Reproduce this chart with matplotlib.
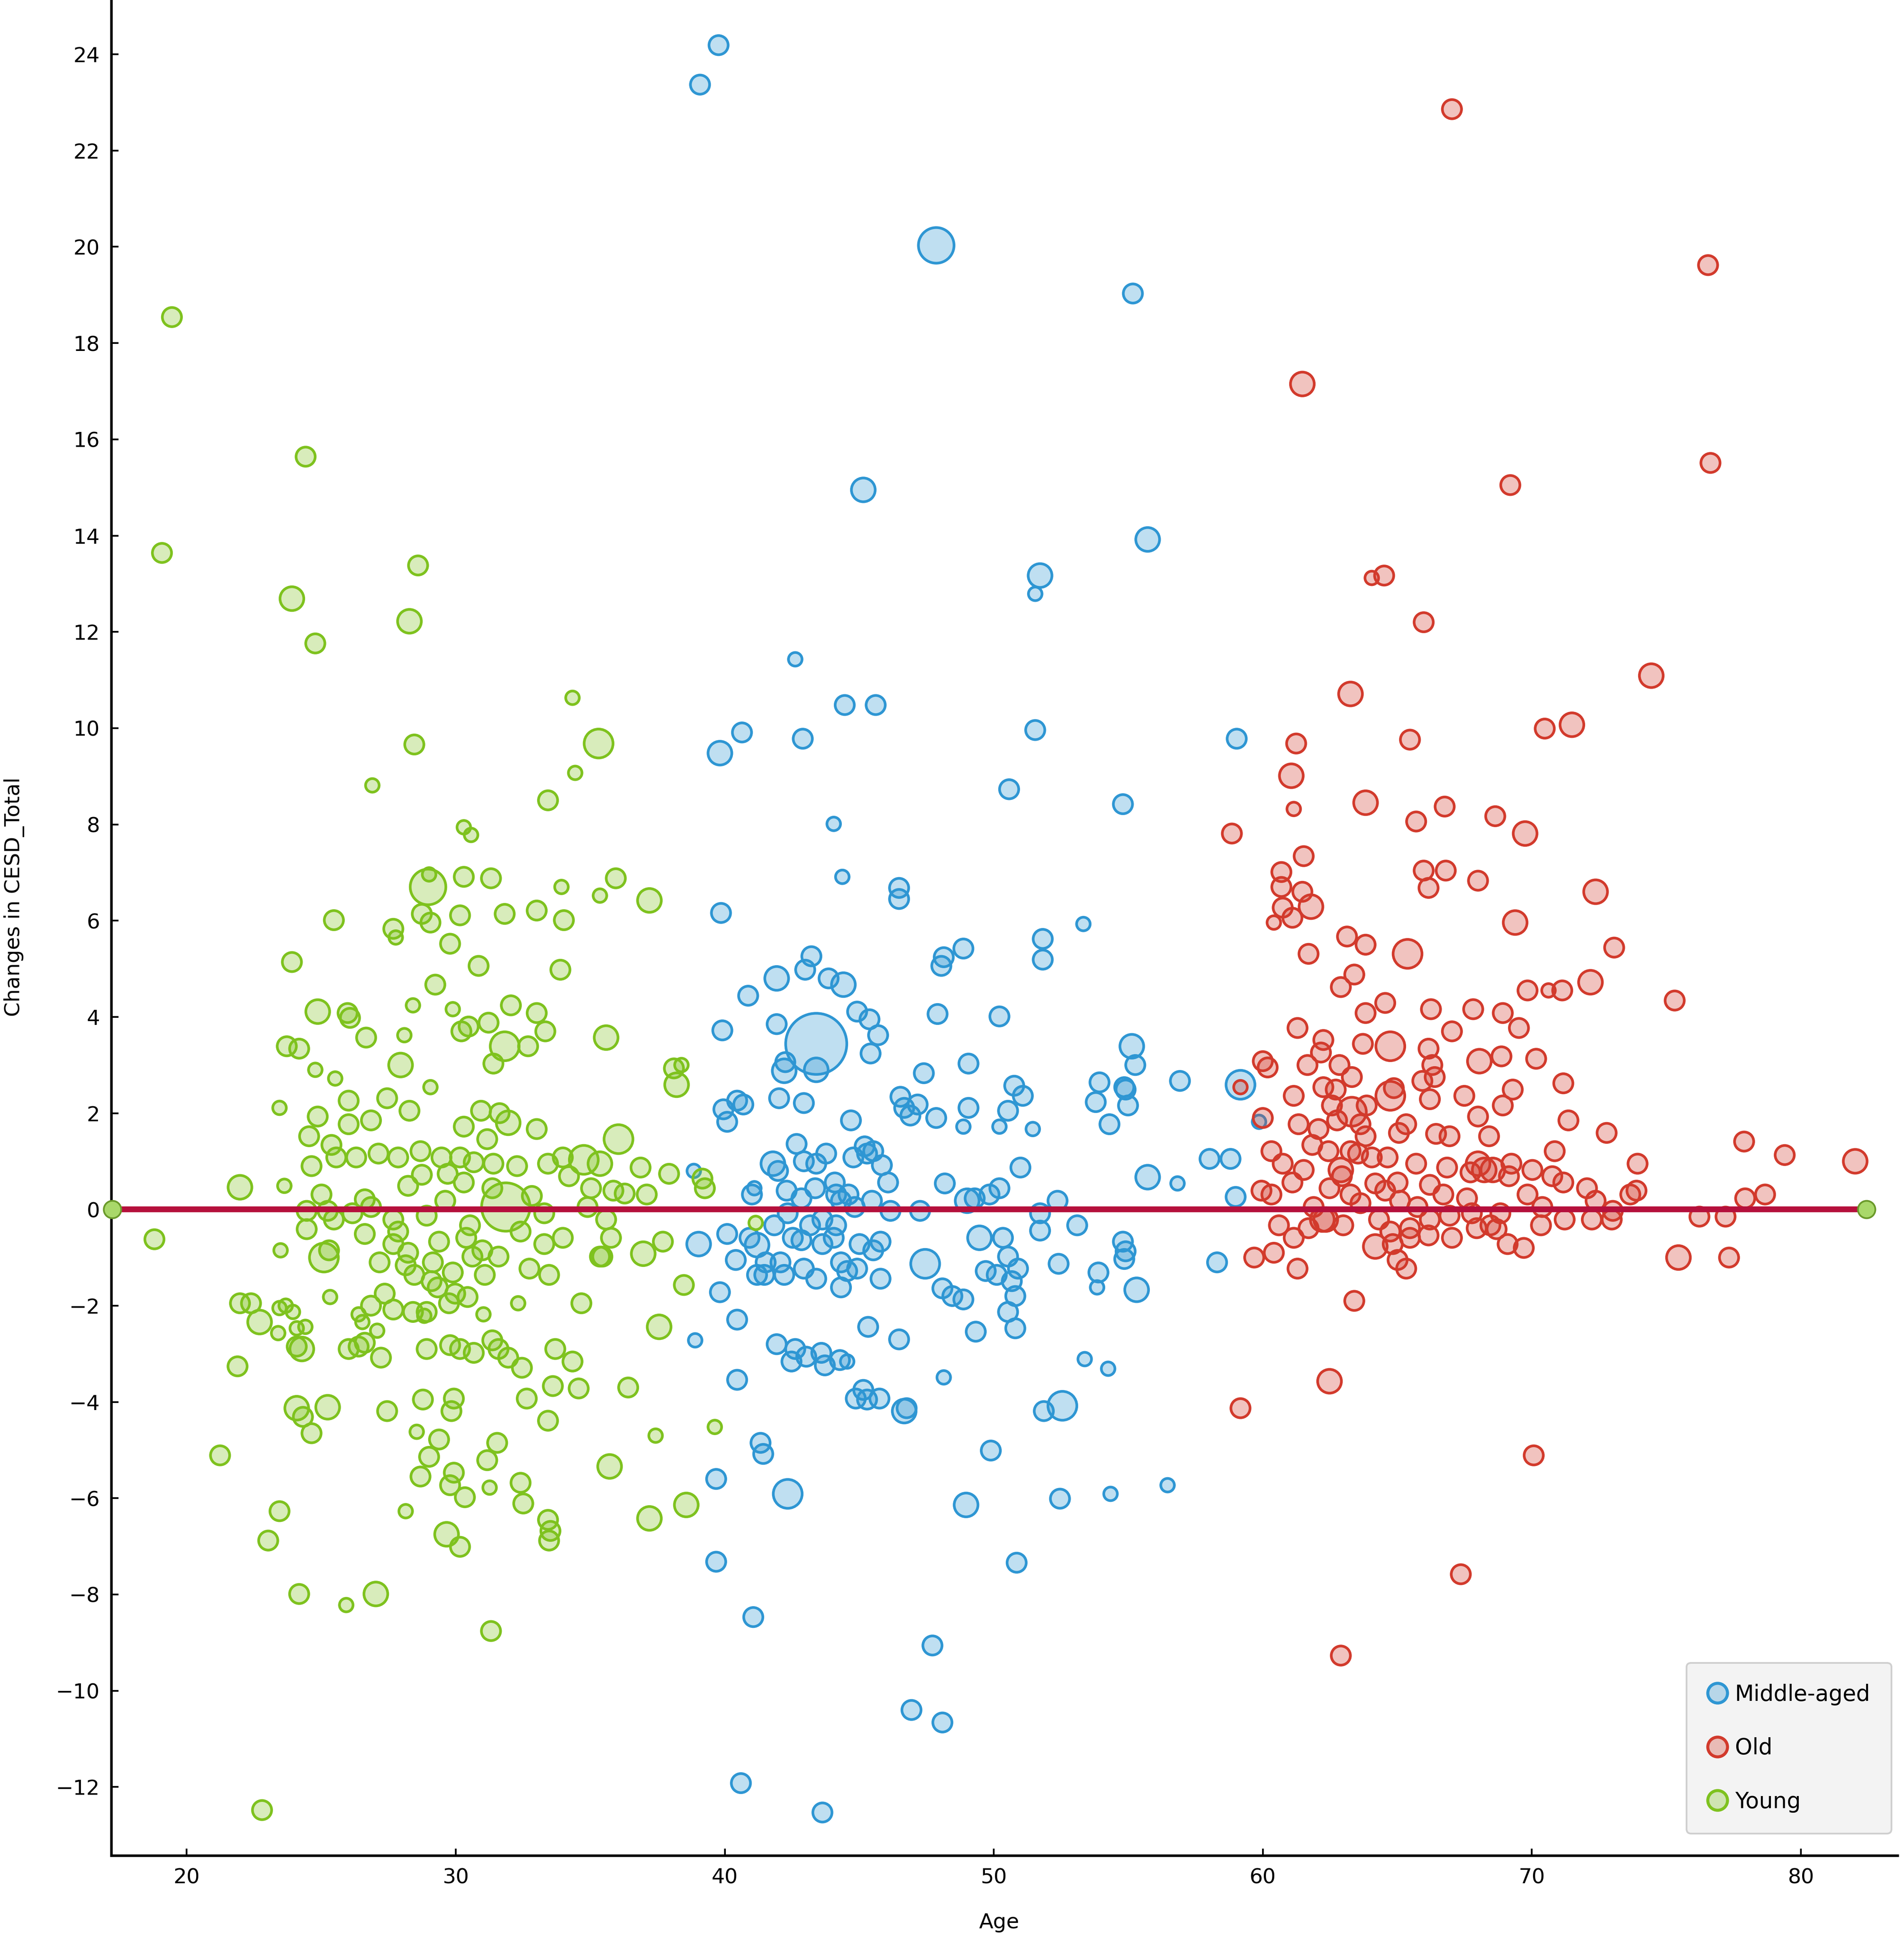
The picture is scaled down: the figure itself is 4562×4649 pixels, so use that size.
import matplotlib
matplotlib.use("Agg")
import matplotlib.pyplot as plt
from matplotlib.lines import Line2D
from matplotlib.colors import to_rgba

# ---------------- data: (age, change in CESD_Total, bubble weight) ----------------
young = [
    (19.45, 18.54, 2), (24.42, 15.64, 2), (19.08, 13.64, 2), (23.91, 12.69, 3), (24.78, 11.76, 2),
    (28.60, 13.38, 2), (28.28, 12.22, 3), (34.34, 10.63, 1), (35.31, 9.68, 4), (28.46, 9.66, 2),
    (26.90, 8.81, 1), (34.44, 9.07, 1), (33.43, 8.50, 2), (30.30, 7.94, 1), (30.57, 7.78, 1),
    (28.97, 6.70, 5), (29.01, 6.96, 1), (30.30, 6.91, 2), (31.31, 6.88, 2), (27.68, 5.83, 2),
    (27.77, 5.65, 1), (25.47, 6.01, 2), (23.91, 5.14, 2), (37.20, 6.42, 3), (35.95, 6.88, 2),
    (35.36, 6.52, 1), (33.93, 6.70, 1), (33.01, 6.21, 2), (34.02, 6.01, 2), (29.06, 5.96, 2),
    (28.74, 6.14, 2), (30.16, 6.11, 2), (31.82, 6.14, 2), (29.79, 5.52, 2), (30.85, 5.06, 2),
    (29.24, 4.67, 2), (33.89, 4.98, 2), (24.87, 4.11, 3), (25.98, 4.08, 2), (26.07, 3.98, 2),
    (28.41, 4.24, 1), (29.89, 4.16, 1), (32.05, 4.24, 2), (33.01, 4.08, 2), (30.48, 3.80, 2),
    (30.21, 3.70, 2), (31.22, 3.88, 2), (33.33, 3.70, 2), (28.09, 3.62, 1), (35.59, 3.57, 3),
    (23.72, 3.39, 2), (24.18, 3.34, 2), (26.67, 3.57, 2), (31.82, 3.39, 4), (32.69, 3.39, 2),
    (31.40, 3.03, 2), (24.78, 2.90, 1), (27.95, 3.00, 3), (29.06, 2.54, 1), (25.52, 2.72, 1),
    (38.11, 2.93, 2), (38.39, 3.00, 1), (38.21, 2.59, 3), (26.02, 2.26, 2), (27.45, 2.31, 2),
    (23.45, 2.11, 1), (24.87, 1.93, 2), (28.28, 2.05, 2), (30.94, 2.05, 2), (31.63, 2.00, 2),
    (31.95, 1.80, 3), (26.85, 1.85, 2), (33.01, 1.67, 2), (30.30, 1.72, 2), (31.17, 1.46, 2),
    (26.02, 1.77, 2), (24.55, 1.52, 2), (25.38, 1.34, 2), (36.05, 1.46, 4), (25.56, 1.08, 2),
    (26.30, 1.08, 2), (27.13, 1.16, 2), (27.86, 1.08, 2), (28.69, 1.21, 2), (29.47, 1.08, 2),
    (30.16, 1.08, 2), (30.67, 0.98, 2), (31.40, 0.95, 2), (32.28, 0.90, 2), (33.43, 0.95, 2),
    (33.98, 1.08, 2), (34.76, 1.03, 4), (35.36, 0.95, 3), (21.98, 0.46, 3), (24.64, 0.90, 2),
    (36.87, 0.87, 2), (37.93, 0.74, 2), (39.17, 0.64, 2), (39.26, 0.44, 2), (23.63, 0.49, 1),
    (25.01, 0.31, 2), (26.62, 0.21, 2), (28.23, 0.49, 2), (28.74, 0.72, 2), (29.70, 0.74, 2),
    (30.30, 0.56, 2), (31.86, 0.05, 6), (31.36, 0.44, 2), (32.83, 0.28, 2), (34.21, 0.69, 2),
    (35.03, 0.44, 2), (35.86, 0.39, 2), (36.28, 0.33, 2), (37.10, 0.31, 2), (24.46, -0.03, 2),
    (25.24, -0.03, 2), (26.16, -0.08, 2), (26.85, 0.05, 2), (27.68, -0.21, 2), (28.92, -0.13, 2),
    (29.61, 0.18, 2), (30.53, -0.33, 2), (33.29, -0.08, 2), (34.90, 0.05, 2), (35.59, -0.21, 2),
    (18.80, -0.62, 2), (23.49, -0.85, 1), (24.46, -0.41, 2), (25.47, -0.21, 2), (26.62, -0.51, 2),
    (27.86, -0.46, 2), (27.68, -0.72, 2), (28.23, -0.90, 2), (29.15, -1.10, 2), (29.38, -0.67, 2),
    (30.39, -0.59, 2), (30.99, -0.85, 2), (31.59, -0.98, 2), (32.41, -0.46, 2), (33.29, -0.72, 2),
    (33.98, -0.59, 2), (35.45, -0.98, 2), (35.77, -0.59, 2), (36.97, -0.92, 3), (37.70, -0.67, 2),
    (25.10, -1.00, 4), (25.29, -0.85, 2), (27.17, -1.10, 2), (28.14, -1.16, 2), (28.46, -1.36, 2),
    (29.10, -1.49, 2), (29.89, -1.31, 2), (30.62, -0.98, 2), (31.08, -1.36, 2), (32.74, -1.23, 2),
    (33.47, -1.36, 2), (35.36, -0.98, 2), (38.48, -1.57, 2), (29.33, -1.62, 2), (29.98, -1.75, 2),
    (27.36, -1.75, 2), (25.33, -1.82, 1), (26.85, -2.00, 2), (27.68, -2.08, 2), (28.41, -2.13, 2),
    (28.92, -2.13, 2), (29.75, -1.95, 2), (30.44, -1.82, 2), (21.98, -1.95, 2), (22.39, -1.95, 2),
    (32.32, -1.95, 1), (34.67, -1.95, 2), (23.45, -2.05, 1), (23.68, -2.00, 1), (24.09, -2.47, 1),
    (23.95, -2.13, 1), (22.71, -2.34, 3), (23.40, -2.57, 1), (24.41, -2.44, 1), (26.39, -2.18, 1),
    (26.53, -2.34, 1), (27.08, -2.52, 1), (28.83, -2.21, 1), (37.56, -2.44, 3), (31.03, -2.18, 1),
    (24.28, -2.90, 3), (24.09, -2.85, 2), (26.02, -2.90, 2), (26.39, -2.85, 2), (26.62, -2.77, 2),
    (27.22, -3.08, 2), (28.92, -2.90, 2), (29.79, -2.82, 2), (30.16, -2.90, 2), (30.67, -2.98, 2),
    (31.36, -2.72, 2), (31.59, -2.90, 2), (31.95, -3.08, 2), (32.46, -3.29, 2), (33.70, -2.90, 2),
    (34.34, -3.16, 2), (21.89, -3.26, 2), (33.61, -3.67, 2), (34.57, -3.72, 2), (36.41, -3.70, 2),
    (32.64, -3.93, 2), (33.43, -4.39, 2), (28.78, -3.95, 2), (29.93, -3.93, 2), (29.84, -4.19, 2),
    (27.45, -4.19, 2), (24.09, -4.13, 3), (24.32, -4.31, 2), (25.24, -4.11, 3), (24.64, -4.65, 2),
    (21.24, -5.11, 2), (28.55, -4.62, 1), (29.38, -4.78, 2), (31.54, -4.85, 2), (31.17, -5.21, 2),
    (37.43, -4.70, 1), (29.01, -5.14, 2), (29.93, -5.47, 2), (35.72, -5.34, 3), (28.69, -5.55, 2),
    (29.79, -5.73, 2), (30.34, -5.98, 2), (31.26, -5.78, 1), (32.41, -5.68, 2), (32.51, -6.11, 2),
    (33.43, -6.45, 2), (33.52, -6.68, 2), (33.47, -6.88, 2), (23.45, -6.27, 2), (23.03, -6.88, 2),
    (28.14, -6.27, 1), (29.66, -6.75, 3), (30.16, -7.01, 2), (38.57, -6.14, 3), (37.20, -6.42, 3),
    (24.18, -7.99, 2), (25.93, -8.22, 1), (27.03, -7.99, 3), (31.31, -8.76, 2), (22.80, -12.48, 2),
    (41.15, -0.28, 1), (39.63, -4.52, 1),
]

middle_aged = [
    (39.77, 24.19, 2), (39.08, 23.37, 2), (47.86, 20.03, 5), (55.17, 19.03, 2), (45.15, 14.95, 3),
    (55.72, 13.92, 3), (51.72, 13.17, 3), (51.54, 12.79, 1), (42.62, 11.43, 1), (44.46, 10.48, 2),
    (45.61, 10.48, 2), (40.64, 9.91, 2), (39.82, 9.48, 3), (42.90, 9.78, 2), (51.54, 9.96, 2),
    (59.03, 9.78, 2), (50.57, 8.73, 2), (54.80, 8.42, 2), (44.05, 8.01, 1), (44.37, 6.91, 1),
    (46.48, 6.68, 2), (46.48, 6.45, 2), (39.86, 6.16, 2), (51.82, 5.62, 2), (51.82, 5.19, 2),
    (53.33, 5.93, 1), (48.87, 5.42, 2), (48.05, 5.06, 2), (48.14, 5.24, 2), (43.22, 5.26, 2),
    (42.99, 4.98, 2), (41.93, 4.80, 3), (43.86, 4.80, 2), (44.41, 4.67, 3), (40.87, 4.44, 2),
    (44.92, 4.11, 2), (47.91, 4.06, 2), (50.21, 4.01, 2), (45.38, 3.95, 2), (45.70, 3.62, 2),
    (39.91, 3.72, 2), (41.93, 3.85, 2), (43.40, 3.44, 7), (45.42, 3.24, 2), (55.13, 3.39, 3),
    (42.21, 2.88, 3), (43.40, 2.90, 3), (42.25, 3.06, 2), (55.26, 3.00, 2), (49.06, 3.03, 2),
    (47.40, 2.83, 2), (50.76, 2.57, 2), (51.08, 2.36, 2), (56.92, 2.67, 2), (59.17, 2.59, 4),
    (53.93, 2.64, 2), (54.85, 2.54, 2), (42.02, 2.31, 2), (42.94, 2.21, 2), (40.46, 2.26, 2),
    (39.95, 2.08, 2), (40.69, 2.18, 2), (46.53, 2.34, 2), (46.67, 2.11, 2), (46.90, 1.95, 2),
    (47.17, 2.18, 2), (47.86, 1.90, 2), (49.06, 2.11, 2), (50.53, 2.05, 2), (53.79, 2.23, 2),
    (54.99, 2.16, 2), (54.90, 2.49, 2), (59.86, 1.82, 1), (54.30, 1.77, 2), (50.21, 1.72, 1),
    (48.87, 1.72, 1), (51.45, 1.67, 1), (44.69, 1.85, 2), (40.09, 1.82, 2), (42.67, 1.36, 2),
    (45.20, 1.31, 2), (45.29, 1.16, 2), (45.52, 1.21, 2), (43.77, 1.16, 2), (44.78, 1.08, 2),
    (42.94, 1.00, 2), (43.40, 0.95, 2), (41.79, 0.95, 3), (41.98, 0.80, 2), (38.85, 0.80, 1),
    (41.10, 0.44, 1), (45.84, 0.92, 2), (48.18, 0.54, 2), (50.21, 0.44, 2), (50.99, 0.87, 2),
    (55.72, 0.67, 3), (56.83, 0.54, 1), (58.02, 1.05, 2), (58.80, 1.05, 2), (44.09, 0.56, 2),
    (44.60, 0.31, 2), (44.32, 0.18, 2), (44.14, 0.31, 2), (43.36, 0.44, 2), (42.85, 0.23, 2),
    (42.30, 0.39, 2), (41.01, 0.31, 2), (44.83, 0.05, 2), (45.47, 0.18, 2), (46.16, -0.03, 2),
    (47.26, -0.03, 2), (49.01, 0.18, 3), (49.29, 0.23, 2), (49.84, 0.31, 2), (51.72, -0.08, 2),
    (52.37, 0.18, 2), (46.07, 0.56, 2), (58.99, 0.26, 2), (42.34, -0.08, 2), (43.17, -0.33, 2),
    (43.63, -0.21, 2), (44.14, -0.33, 2), (39.03, -0.72, 3), (40.09, -0.51, 2), (41.20, -0.74, 3),
    (40.92, -0.59, 2), (41.52, -1.10, 2), (42.53, -0.59, 2), (41.84, -0.33, 2), (42.85, -0.64, 2),
    (43.63, -0.72, 2), (44.05, -0.59, 2), (45.01, -0.72, 2), (45.52, -0.85, 2), (45.79, -0.67, 2),
    (49.47, -0.59, 3), (50.34, -0.59, 2), (51.72, -0.44, 2), (53.10, -0.33, 2), (54.80, -0.67, 2),
    (54.90, -0.87, 2), (40.41, -1.05, 2), (42.07, -1.10, 2), (42.94, -1.23, 2), (44.32, -1.10, 2),
    (44.55, -1.28, 2), (44.92, -1.23, 2), (47.45, -1.13, 4), (50.53, -0.98, 2), (50.90, -1.23, 2),
    (52.41, -1.13, 2), (53.89, -1.31, 2), (54.85, -1.03, 2), (58.30, -1.10, 2), (41.20, -1.36, 2),
    (42.21, -1.36, 2), (43.40, -1.44, 2), (44.32, -1.62, 2), (45.79, -1.44, 2), (49.70, -1.28, 2),
    (50.11, -1.36, 2), (50.67, -1.49, 2), (53.84, -1.62, 1), (55.31, -1.67, 3), (39.82, -1.72, 2),
    (41.47, -1.36, 2), (48.09, -1.64, 2), (48.46, -1.80, 2), (48.87, -1.87, 2), (50.80, -1.80, 2),
    (40.46, -2.29, 2), (50.53, -2.13, 2), (45.33, -2.44, 2), (50.80, -2.47, 2), (49.33, -2.54, 2),
    (38.90, -2.72, 1), (46.48, -2.70, 2), (41.93, -2.80, 2), (42.62, -2.90, 2), (43.03, -3.06, 2),
    (43.59, -2.98, 2), (42.48, -3.16, 2), (43.72, -3.24, 2), (44.28, -3.13, 2), (44.55, -3.16, 1),
    (53.38, -3.11, 1), (54.25, -3.31, 1), (40.46, -3.54, 2), (45.15, -3.75, 2), (44.87, -3.93, 2),
    (45.29, -3.95, 2), (45.75, -3.93, 2), (46.67, -4.19, 3), (46.76, -4.13, 2), (48.14, -3.49, 1),
    (52.55, -4.08, 4), (51.86, -4.19, 2), (41.33, -4.85, 2), (41.43, -5.08, 2), (49.89, -5.01, 2),
    (39.68, -5.60, 2), (42.34, -5.91, 4), (48.97, -6.14, 3), (52.46, -6.01, 2), (56.46, -5.73, 1),
    (54.34, -5.91, 1), (39.68, -7.32, 2), (50.85, -7.34, 2), (41.06, -8.47, 2), (47.72, -9.06, 2),
    (46.94, -10.40, 2), (48.09, -10.66, 2), (40.60, -11.92, 2), (43.63, -12.53, 2),
]

old = [
    (67.03, 22.86, 2), (76.55, 19.62, 2), (61.47, 17.15, 3), (76.64, 15.51, 2), (69.20, 15.05, 2),
    (64.51, 13.17, 2), (64.05, 13.12, 1), (65.98, 12.20, 2), (74.44, 11.09, 3), (63.26, 10.71, 3),
    (70.48, 9.99, 2), (71.49, 10.07, 3), (61.24, 9.68, 2), (65.47, 9.76, 2), (61.06, 9.01, 3),
    (58.85, 7.81, 2), (61.15, 8.32, 1), (63.82, 8.45, 3), (66.76, 8.37, 2), (65.70, 8.06, 2),
    (68.64, 8.17, 2), (69.75, 7.81, 3), (61.52, 7.34, 2), (60.69, 7.01, 2), (65.98, 7.04, 2),
    (66.80, 7.04, 2), (68.00, 6.83, 2), (60.69, 6.70, 2), (61.47, 6.60, 2), (66.16, 6.68, 2),
    (60.74, 6.27, 2), (61.79, 6.29, 3), (72.37, 6.60, 3), (60.41, 5.96, 1), (61.10, 6.06, 2),
    (69.38, 5.96, 3), (73.06, 5.44, 2), (63.13, 5.67, 2), (63.82, 5.50, 2), (61.70, 5.31, 2),
    (65.38, 5.31, 4), (75.31, 4.34, 2), (72.18, 4.72, 3), (62.90, 4.62, 2), (63.40, 4.88, 2),
    (64.55, 4.29, 2), (63.82, 4.08, 2), (66.25, 4.16, 2), (67.82, 4.16, 2), (69.84, 4.55, 2),
    (70.62, 4.55, 1), (71.13, 4.55, 2), (61.29, 3.77, 2), (62.25, 3.52, 2), (62.16, 3.26, 2),
    (67.03, 3.70, 2), (66.16, 3.34, 2), (68.92, 4.08, 2), (69.52, 3.77, 2), (64.74, 3.39, 4),
    (63.72, 3.44, 2), (62.85, 3.00, 2), (66.30, 3.00, 2), (68.05, 3.08, 3), (68.87, 3.18, 2),
    (70.16, 3.13, 2), (60.00, 3.08, 2), (60.18, 2.95, 2), (59.17, 2.54, 1), (62.71, 2.49, 2),
    (61.66, 3.00, 2), (63.31, 2.75, 2), (65.93, 2.67, 2), (66.39, 2.75, 2), (71.17, 2.62, 2),
    (61.15, 2.36, 2), (62.25, 2.54, 2), (62.57, 2.16, 2), (63.31, 2.03, 4), (63.86, 2.16, 2),
    (64.87, 2.52, 2), (64.74, 2.36, 4), (66.21, 2.29, 2), (67.49, 2.36, 2), (68.92, 2.16, 2),
    (69.29, 2.49, 2), (60.00, 1.90, 2), (61.33, 1.77, 2), (62.07, 1.67, 2), (62.76, 1.85, 2),
    (63.63, 1.77, 2), (63.82, 1.52, 2), (65.06, 1.59, 2), (65.33, 1.77, 2), (66.44, 1.57, 2),
    (66.94, 1.52, 2), (68.00, 1.93, 2), (68.41, 1.52, 2), (71.36, 1.85, 2), (60.32, 1.21, 2),
    (61.84, 1.34, 2), (62.44, 1.21, 2), (63.26, 1.21, 2), (63.54, 1.16, 2), (64.05, 1.08, 2),
    (64.64, 1.08, 2), (65.70, 0.95, 2), (66.85, 0.87, 2), (67.72, 0.77, 2), (68.55, 0.82, 3),
    (69.24, 0.95, 2), (70.85, 1.21, 2), (72.78, 1.59, 2), (73.93, 0.95, 2), (77.89, 1.41, 2),
    (79.40, 1.13, 2), (82.02, 1.00, 3), (60.74, 0.95, 2), (61.10, 0.56, 2), (61.52, 0.82, 2),
    (62.48, 0.44, 2), (62.90, 0.82, 3), (62.94, 0.69, 2), (64.18, 0.54, 2), (65.01, 0.56, 2),
    (66.21, 0.51, 2), (68.00, 0.95, 3), (68.23, 0.82, 3), (69.15, 0.69, 2), (70.02, 0.82, 2),
    (70.76, 0.69, 2), (71.17, 0.56, 2), (72.05, 0.44, 2), (72.37, 0.18, 2), (73.66, 0.31, 2),
    (73.89, 0.39, 2), (77.93, 0.23, 2), (78.67, 0.31, 2), (59.95, 0.39, 2), (60.32, 0.31, 2),
    (61.89, 0.05, 2), (63.26, 0.31, 2), (63.63, 0.13, 2), (64.55, 0.39, 2), (65.10, 0.18, 2),
    (65.75, 0.05, 2), (66.71, 0.31, 2), (67.59, 0.23, 2), (69.84, 0.31, 2), (70.39, 0.05, 2),
    (73.01, -0.03, 2), (60.60, -0.33, 2), (61.70, -0.39, 2), (62.34, -0.21, 3), (62.99, -0.33, 2),
    (64.32, -0.21, 2), (64.74, -0.46, 2), (65.47, -0.39, 2), (66.21, -0.21, 2), (66.94, -0.13, 2),
    (67.77, -0.08, 2), (68.46, -0.33, 2), (68.83, -0.08, 2), (70.34, -0.33, 2), (71.22, -0.21, 2),
    (72.23, -0.21, 2), (72.97, -0.21, 2), (76.23, -0.15, 2), (77.20, -0.15, 2), (62.21, -0.21, 3),
    (61.15, -0.59, 2), (64.18, -0.77, 3), (64.83, -0.72, 2), (65.01, -1.05, 2), (65.47, -0.59, 2),
    (66.16, -0.54, 2), (67.03, -0.59, 2), (67.95, -0.39, 2), (68.69, -0.41, 2), (69.10, -0.72, 2),
    (69.70, -0.80, 2), (60.41, -0.90, 2), (59.68, -1.00, 2), (61.29, -1.23, 2), (65.33, -1.23, 2),
    (75.45, -1.00, 3), (77.33, -1.00, 2), (63.40, -1.90, 2), (62.48, -3.57, 3), (59.17, -4.13, 2),
    (70.07, -5.11, 2), (67.36, -7.58, 2), (62.90, -9.27, 2),
]

# zero-change reference line and its end points
line_age = [17.24, 82.44]
line_change = [0.0, 0.0]

group_names = ["Middle-aged", "Old", "Young"]
group_data = [middle_aged, old, young]
edge_colors = ["#2E96D3", "#D23A2C", "#7EC21E"]

x_ticks = [20, 30, 40, 50, 60, 70, 80]
y_ticks = list(range(-12, 25, 2))

# bubble radius (in points) for each weight level
radius_pt = {1: 7.0, 2: 9.4, 3: 11.4, 4: 13.6, 5: 16.5, 6: 22.0, 7: 27.5}

# ---------------- figure ----------------
plt.rcParams["font.family"] = ["DejaVu Sans"]
fig = plt.figure(figsize=(22.81, 23.245), dpi=200)
ax = fig.add_axes([0.0585, 0.0434, 0.9382, 0.9559])

EDGE_W = 2.3
for name, pts, col in zip(group_names, group_data, edge_colors):
    ages = [p[0] for p in pts]
    vals = [p[1] for p in pts]
    sizes = [(2 * radius_pt[p[2]] - EDGE_W) ** 2 for p in pts]
    face = to_rgba(col, 0.30)
    ax.scatter(ages, vals, s=sizes, facecolors=[face], edgecolors=[col],
               linewidths=EDGE_W, zorder=2)

ax.plot(line_age, line_change, color="#B5103C", linewidth=5.0, zorder=3,
        solid_capstyle="butt")
ax.plot(line_age, line_change, linestyle="none", marker="o", markersize=15,
        markerfacecolor="#A9D86A", markeredgecolor="#6A9A2A", markeredgewidth=1.5,
        zorder=4, clip_on=False)

ax.set_xlim(17.2, 83.6)
ax.set_ylim(-13.43, 25.1)
ax.set_xticks(x_ticks)
ax.set_yticks(y_ticks)
ax.tick_params(axis="both", direction="in", length=6, width=1.5, labelsize=18,
               pad=10, colors="black")

for sp in ["top", "right"]:
    ax.spines[sp].set_visible(False)
for sp in ["left", "bottom"]:
    ax.spines[sp].set_linewidth(2.2)
    ax.spines[sp].set_color("black")

ax.set_xlabel("Age", fontsize=18, va="center")
ax.set_ylabel("Changes in CESD_Total", fontsize=18, va="center")
ax.xaxis.set_label_coords(0.497, -0.036)
ax.yaxis.set_label_coords(-0.0545, 0.517)

handles = [Line2D([0], [0], linestyle="none", marker="o", markersize=17,
                  markerfacecolor=to_rgba(c, 0.30), markeredgecolor=c,
                  markeredgewidth=2.6) for c in edge_colors]
leg = ax.legend(handles, group_names, loc="lower right",
                bbox_to_anchor=(0.9965, 0.012), fontsize=19, frameon=True,
                fancybox=True, facecolor="#F3F3F3", edgecolor="#CFCFCF",
                framealpha=1.0, labelspacing=1.45, borderpad=0.95,
                handlelength=0.9, handletextpad=0.35, borderaxespad=0.0)
leg.get_frame().set_linewidth(1.5)

fig.savefig("out.png", dpi=200)
